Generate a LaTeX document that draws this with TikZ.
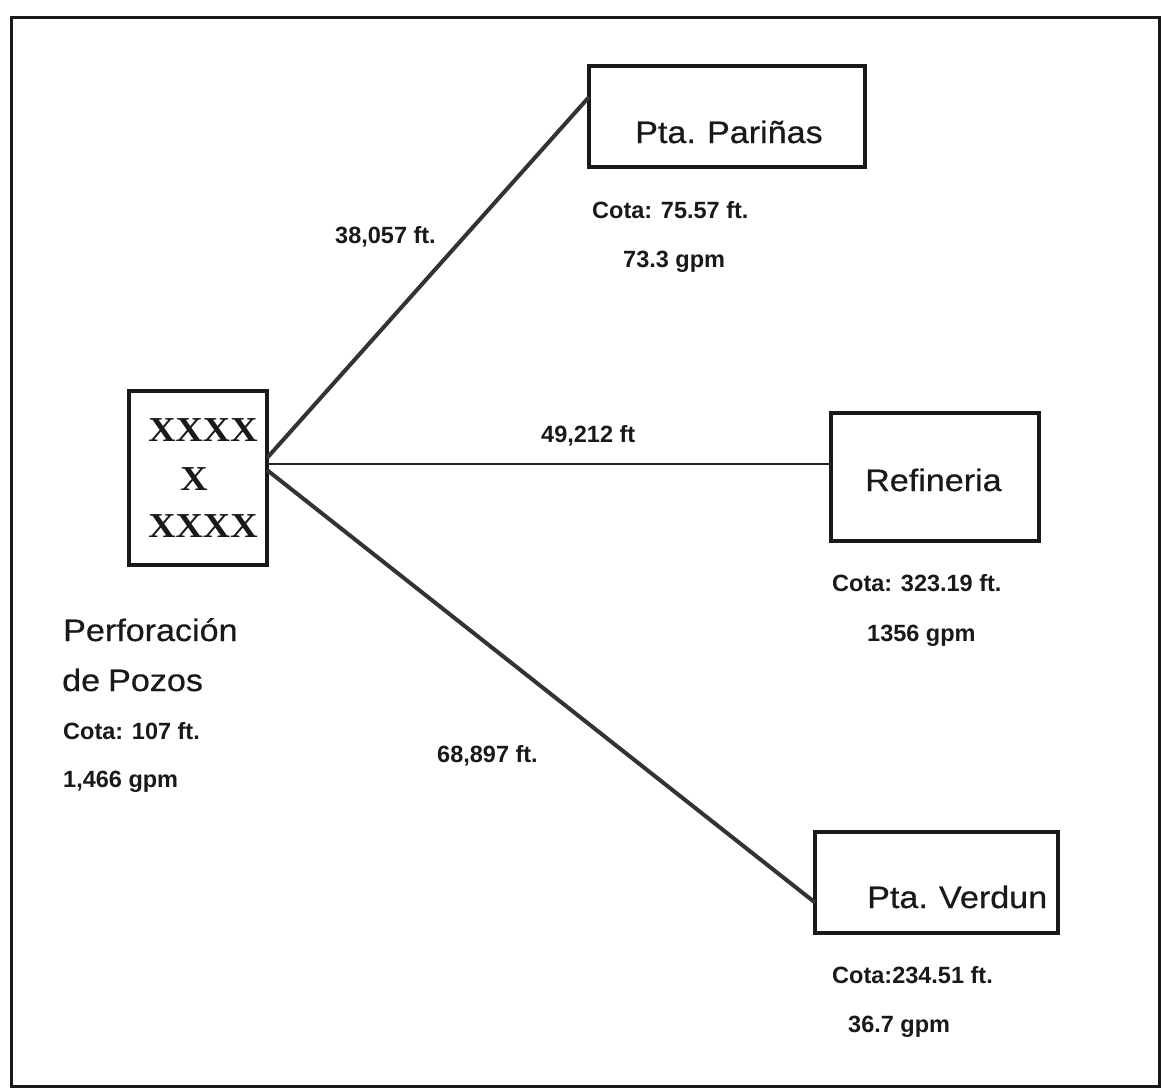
\documentclass[tikz,border=0pt]{standalone}
\usepackage{fontspec}
\setmainfont{Liberation Sans}
\newfontfamily\bigfont{Liberation Sans}[FakeStretch=1.1, FakeBold=0.6, WordSpace=0.85]
\newfontfamily\xfont{Liberation Serif}[FakeStretch=1.08]
\usetikzlibrary{calc}
\tikzset{
  box/.style={draw=black!90, line width=3.2pt, inner sep=0pt, outer sep=0pt, rectangle},
  biglabel/.style={anchor=base west, inner sep=0pt, font=\bigfont\fontsize{31pt}{31pt}\selectfont, text=black!90},
  smalllabel/.style={anchor=base west, inner sep=0pt, font=\bfseries\fontsize{23.5pt}{23.5pt}\selectfont, text=black!90},
  xmark/.style={anchor=center, inner sep=0pt, font=\xfont\bfseries\fontsize{35pt}{35pt}\selectfont, text=black!90},
  pipe/.style={draw=black!80, line width=4pt},
  pipeh/.style={draw=black!85, line width=2.6pt},
}
\begin{document}
\begin{tikzpicture}[x=1pt, y=-1pt]
\useasboundingbox (0,0) rectangle (1161,1088);
\fill[white] (0,0) rectangle (1161,1088);
% outer frame
\draw[line width=3pt, black!90] (11,17) rectangle (1159,1086);

% boxes
\node[box, minimum width=138pt, minimum height=174pt] (xbox) at (198,478) {};
\node[box, minimum width=276pt, minimum height=101pt] (pbox) at (727,116.5) {};
\node[box, minimum width=208pt, minimum height=128pt] (rbox) at (935,477) {};
\node[box, minimum width=243pt, minimum height=101pt] (vbox) at (936.5,882.5) {};

% X marks
\node[xmark] (x1) at (203,430) {XXXX};
\node[xmark] (x2) at (194,479) {X};
\node[xmark] (x3) at (203,526) {XXXX};

% box labels
\node[biglabel] (ptext) at (635,143) {Pta. Pariñas};
\node[biglabel] (rtext) at (865,491) {Refineria};
\node[biglabel] (vtext) at (867,908) {Pta. Verdun};
\node[biglabel] (perf1) at (63,641) {Perforación};
\node[biglabel] (perf2) at (62,691) {de Pozos};

% small labels
\node[smalllabel] (pc) at (592,218) {Cota: 75.57 ft.};
\node[smalllabel] (pg) at (623,267) {73.3 gpm};
\node[smalllabel] (rc) at (832,591) {Cota: 323.19 ft.};
\node[smalllabel] (rg) at (867,641) {1356 gpm};
\node[smalllabel] (vc) at (832,983) {Cota:234.51 ft.};
\node[smalllabel] (vg) at (848,1032) {36.7 gpm};
\node[smalllabel] (xc) at (63,739) {Cota: 107 ft.};
\node[smalllabel] (xg) at (63,787) {1,466 gpm};

% connectors
\draw[pipe] ([yshift=20pt]xbox.east) -- ([yshift=19.5pt]pbox.west);
\draw[pipeh] ([yshift=14pt]xbox.east) -- ([yshift=14pt]xbox.east -| rbox.west);
\draw[pipe] ([yshift=8pt]xbox.east) -- ([yshift=-20pt]vbox.west);

% edge labels
\node[smalllabel] (l1) at (335,243) {38,057 ft.};
\node[smalllabel] (l2) at (541,442) {49,212 ft};
\node[smalllabel] (l3) at (437,762) {68,897 ft.};
\end{tikzpicture}
\end{document}
